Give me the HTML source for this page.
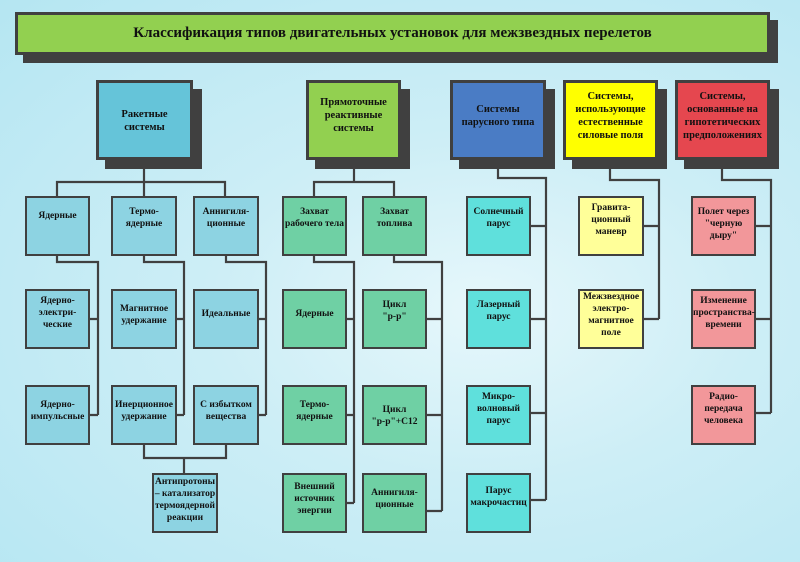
<!DOCTYPE html>
<html><head><meta charset="utf-8"><style>
body{margin:0;width:800px;height:562px;overflow:hidden;position:relative;font-family:"Liberation Serif",serif;
background:radial-gradient(ellipse at 60% 55%,#e6f7fb 0%,#cdeef6 40%,#b5e6f2 100%);}
.b{position:absolute;box-sizing:border-box;border:2.5px solid #404040;text-align:center;font-size:9.5px;font-weight:bold;line-height:12px;color:#111;padding-top:10px}
.t{position:absolute;box-sizing:border-box;border:3px solid #404040;text-align:center;font-size:10.5px;font-weight:bold;line-height:13px;color:#111;box-shadow:9px 9px 0 #404040}
.r{background:#8dd3e2}.g{background:#6fd0a4}.c{background:#5fe0dc}.y{background:#ffff99}.p{background:#f2979a}
svg{position:absolute;left:0;top:0}
</style></head><body>
<svg width="800" height="562"><g stroke="#404040" stroke-width="2.2" fill="none">
<path d="M144 160V182M57 196V182H225V196M144 182V196"/>
<path d="M57 255V262H98V415M89 319H98M89 415H98"/>
<path d="M144 255V262H184V415M176 319H184M176 415H184"/>
<path d="M226 255V262H266V415M258 319H266M258 415H266"/>
<path d="M144 445V458H226V445M184 458V473"/>
<path d="M354 160V182M314 196V182H394V196"/>
<path d="M314 255V262H354V503M346 319H354M346 415H354M346 503H354"/>
<path d="M394 255V262H442V511M426 319H442M426 415H442M426 511H442"/>
<path d="M498 160V178H546V500M530 226H546M530 319H546M530 413H546M530 500H546"/>
<path d="M610 160V180H659V319M643 226H659M643 319H659"/>
<path d="M722 160V180H771V413M755 226H771M755 319H771M755 413H771"/>
<path d="M388 348H404" stroke-width="2"/>
</g></svg>
<div class="t" style="left:15px;top:12px;width:755px;height:43px;background:#92d050;font-size:15px;line-height:37px;box-shadow:8px 8px 0 #404040">Классификация типов двигательных установок для межзвездных перелетов</div>
<div class="t" style="left:96px;top:80px;width:97px;height:80px;background:#65c4d9;padding-top:25px">Ракетные<br>системы</div>
<div class="t" style="left:306px;top:80px;width:95px;height:80px;background:#92d050;padding-top:13px">Прямоточные<br>реактивные<br>системы</div>
<div class="t" style="left:450px;top:80px;width:96px;height:80px;background:#4a7cc5;padding-top:20px">Системы<br>парусного типа</div>
<div class="t" style="left:563px;top:80px;width:95px;height:80px;background:#ffff00;padding-top:7px">Системы,<br>использующие<br>естественные<br>силовые поля</div>
<div class="t" style="left:675px;top:80px;width:95px;height:80px;background:#e5474f;padding-top:7px">Системы,<br>основанные на<br>гипотетических<br>предположениях</div>

<div class="b r" style="left:25px;top:196px;width:65px;height:60px;padding-top:12px">Ядерные</div>
<div class="b r" style="left:111px;top:196px;width:66px;height:60px;padding-top:8px">Термо-<br>ядерные</div>
<div class="b r" style="left:193px;top:196px;width:66px;height:60px;padding-top:8px">Аннигиля-<br>ционные</div>
<div class="b r" style="left:25px;top:289px;width:65px;height:60px;padding-top:4px">Ядерно-<br>электри-<br>ческие</div>
<div class="b r" style="left:111px;top:289px;width:66px;height:60px;padding-top:12px">Магнитное<br>удержание</div>
<div class="b r" style="left:193px;top:289px;width:66px;height:60px;padding-top:17px">Идеальные</div>
<div class="b r" style="left:25px;top:385px;width:65px;height:60px;padding-top:12px">Ядерно-<br>импульсные</div>
<div class="b r" style="left:111px;top:385px;width:66px;height:60px;padding-top:12px">Инерционное<br>удержание</div>
<div class="b r" style="left:193px;top:385px;width:66px;height:60px;padding-top:12px">С избытком<br>вещества</div>
<div class="b r" style="left:152px;top:473px;width:66px;height:60px;padding-top:1px">Антипротоны<br>– катализатор<br>термоядерной<br>реакции</div>

<div class="b g" style="left:282px;top:196px;width:65px;height:60px;padding-top:8px">Захват<br>рабочего тела</div>
<div class="b g" style="left:362px;top:196px;width:65px;height:60px;padding-top:8px">Захват<br>топлива</div>
<div class="b g" style="left:282px;top:289px;width:65px;height:60px;padding-top:17px">Ядерные</div>
<div class="b g" style="left:362px;top:289px;width:65px;height:60px;padding-top:8px">Цикл<br>"р-р"</div>
<div class="b g" style="left:282px;top:385px;width:65px;height:60px;padding-top:12px">Термо-<br>ядерные</div>
<div class="b g" style="left:362px;top:385px;width:65px;height:60px;padding-top:17px">Цикл<br>"р-р"+C12</div>
<div class="b g" style="left:282px;top:473px;width:65px;height:60px;padding-top:6px">Внешний<br>источник<br>энергии</div>
<div class="b g" style="left:362px;top:473px;width:65px;height:60px;padding-top:12px">Аннигиля-<br>ционные</div>

<div class="b c" style="left:466px;top:196px;width:65px;height:60px;padding-top:8px">Солнечный<br>парус</div>
<div class="b c" style="left:466px;top:289px;width:65px;height:60px;padding-top:8px">Лазерный<br>парус</div>
<div class="b c" style="left:466px;top:385px;width:65px;height:60px;padding-top:4px">Микро-<br>волновый<br>парус</div>
<div class="b c" style="left:466px;top:473px;width:65px;height:60px;padding-top:10px">Парус<br>макрочастиц</div>

<div class="b y" style="left:578px;top:196px;width:66px;height:60px;padding-top:4px">Гравита-<br>ционный<br>маневр</div>
<div class="b y" style="left:578px;top:289px;width:66px;height:60px;padding-top:0px">Межзвездное<br>электро-<br>магнитное<br>поле</div>

<div class="b p" style="left:691px;top:196px;width:65px;height:60px;padding-top:8px">Полет через<br>"черную дыру"</div>
<div class="b p" style="left:691px;top:289px;width:65px;height:60px;padding-top:4px">Изменение<br>пространства-<br>времени</div>
<div class="b p" style="left:691px;top:385px;width:65px;height:60px;padding-top:4px">Радио-<br>передача<br>человека</div>
</body></html>
